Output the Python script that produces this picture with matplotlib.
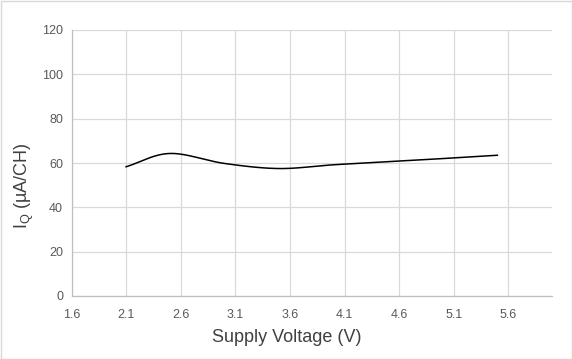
import matplotlib
matplotlib.use("Agg")
import matplotlib.pyplot as plt
import numpy as np

plt.rcParams["font.family"] = ["Liberation Sans", "DejaVu Sans"]

# Supply voltage (V) and quiescent current per channel (uA/CH)
voltage = [2.1, 2.5, 3.0, 3.5, 4.0, 4.5, 5.0, 5.5]
iq = [58.3, 64.3, 59.8, 57.5, 59.2, 60.6, 62.0, 63.5]

x_ticks = [1.6, 2.1, 2.6, 3.1, 3.6, 4.1, 4.6, 5.1, 5.6]
y_ticks = [0, 20, 40, 60, 80, 100, 120]


def smooth(xs, ys, n=30):
    """Catmull-Rom style smoothing, like a spreadsheet 'smoothed line'."""
    xs = np.asarray(xs, float)
    ys = np.asarray(ys, float)
    px = np.concatenate([[2 * xs[0] - xs[1]], xs, [2 * xs[-1] - xs[-2]]])
    py = np.concatenate([[2 * ys[0] - ys[1]], ys, [2 * ys[-1] - ys[-2]]])
    ox, oy = [], []
    t = np.linspace(0, 1, n)
    for i in range(1, len(px) - 2):
        p0, p1, p2, p3 = [np.array([px[j], py[j]]) for j in range(i - 1, i + 3)]
        c1 = p1 + (p2 - p0) / 6
        c2 = p2 - (p3 - p1) / 6
        pts = ((1 - t) ** 3)[:, None] * p1 + (3 * (1 - t) ** 2 * t)[:, None] * c1 \
            + (3 * (1 - t) * t ** 2)[:, None] * c2 + (t ** 3)[:, None] * p2
        ox.extend(pts[:, 0])
        oy.extend(pts[:, 1])
    return ox, oy


fig = plt.figure(figsize=(5.72, 3.59), dpi=100)
fig.patch.set_facecolor("white")
ax = fig.add_axes([71.5 / 572, 1 - 296 / 359, (552 - 71.5) / 572, (296 - 30) / 359])

sx, sy = smooth(voltage, iq)
ax.plot(sx, sy, color="black", linewidth=1.1, zorder=3)

ax.set_xlim(1.6, 6.0)
ax.set_ylim(0, 120)
ax.set_xticks(x_ticks)
ax.set_xticklabels([f"{v:.1f}" for v in x_ticks])
ax.set_yticks(y_ticks)
ax.grid(True, color="#d9d9d9", linewidth=0.9)
ax.set_axisbelow(True)
for side in ["top", "right"]:
    ax.spines[side].set_visible(False)
for side in ["left", "bottom"]:
    ax.spines[side].set_color("#bfbfbf")
    ax.spines[side].set_linewidth(0.9)
ax.tick_params(length=0, labelsize=9, colors="#595959", pad=6)
ax.tick_params(axis="x", pad=9)

fig.text(287 / 572, 1 - 337 / 359, "Supply Voltage (V)", ha="center", va="center",
         fontsize=13, color="#404040")
fig.text(24 / 572, 1 - 186 / 359, r"$\mathregular{I_Q}$ (µA/CH)", ha="center", va="center",
         rotation=90, fontsize=13, color="#404040")

# chart border
fig.add_artist(plt.Rectangle((0.5 / 572, 0.5 / 359), 571 / 572, 358 / 359,
                             transform=fig.transFigure, fill=False,
                             edgecolor="#d9d9d9", linewidth=1))

fig.savefig("out.png", dpi=100)
